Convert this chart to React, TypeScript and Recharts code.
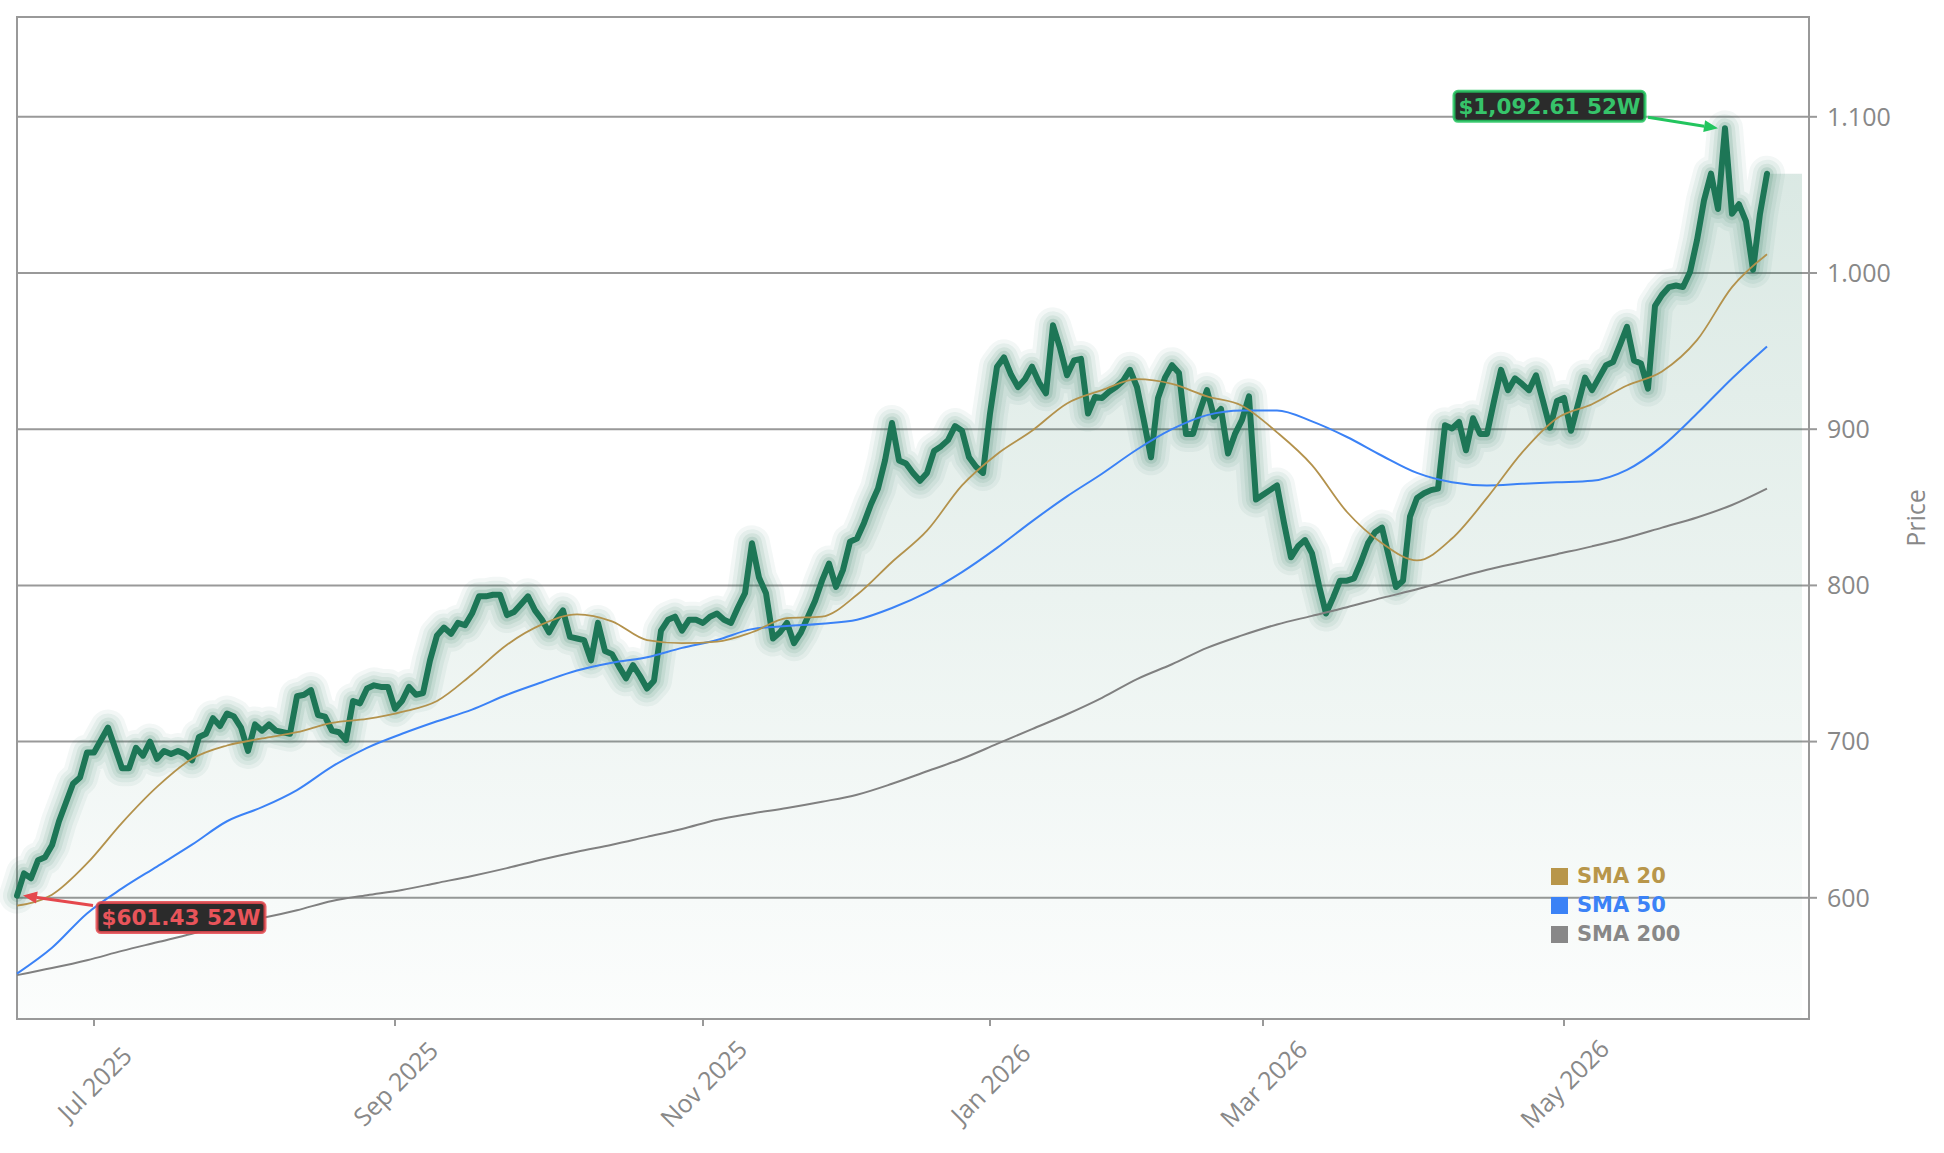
import React from 'react';
import {
  ComposedChart,
  Line,
  Area,
  XAxis,
  YAxis,
  CartesianGrid,
  ReferenceDot,
  ReferenceArea,
} from 'recharts';

// ---- calendar -------------------------------------------------------------
const START_DATE = '2025-06-13';
const MARKET_HOLIDAYS = [
  '2025-06-19', '2025-07-04', '2025-09-01', '2025-11-27', '2025-12-25',
  '2026-01-01', '2026-01-19', '2026-02-16', '2026-04-03', '2026-05-25', '2026-06-19',
];
const PAD_SESSIONS = 6; // empty sessions at the right edge of the axis
const FILL_PAD_SESSIONS = 5; // the shaded area runs a little past the last close

// ---- daily close (52 weeks) ----------------------------------------------
const closes = [
  601.43, 615.6, 612.5, 624, 626, 633.6, 649, 661, 673, 677,
  693, 693, 701, 709, 696, 683, 683, 696, 691, 700,
  689, 694, 692, 694, 692, 688, 703, 705, 715, 710,
  718, 716, 709, 694, 711, 707, 711, 707, 706, 705,
  729, 730, 733, 717, 716, 707, 706, 701, 726, 724.5,
  734, 736, 735, 735, 721, 726, 735, 730, 731, 752,
  768, 773, 769, 776, 774.5, 782, 793, 793, 794, 794,
  781, 783, 788, 793, 784, 778, 770, 778, 784, 767,
  766, 765, 752, 776, 758, 756, 748, 740.5, 749, 742,
  734, 739, 771, 778, 780, 771, 778, 778, 776, 780,
  782, 778, 776, 786, 795, 827, 805, 795, 766, 770,
  776, 763, 770, 780, 790, 803, 814, 799, 810, 828,
  830, 840, 852, 862, 880, 904, 880, 878, 872, 867,
  872, 886, 889, 893, 902, 899, 882, 876, 872, 910,
  940, 946, 935, 927, 932, 940, 930, 923, 966.5, 952,
  934.5, 944, 945, 910, 920.6, 920, 924, 927, 931, 938,
  927, 905, 882, 920, 933, 941, 936, 897, 897, 912,
  925, 908, 913, 884.5, 897, 906, 921, 855, 858, 861,
  864, 840, 818, 825, 829, 820.5, 800, 782, 792, 803,
  803, 804.5, 815, 827, 834, 837, 818, 799, 803, 844,
  856, 859, 861, 862, 902.5, 900.5, 904.6, 886.5, 907, 897,
  897, 918, 938, 925, 932.6, 929, 925, 934.5, 918, 901,
  918, 920, 899, 916, 933, 925, 933, 941, 943, 954,
  965.5, 944, 942, 926, 979, 986, 991, 992, 991, 1000.6,
  1021, 1046.5, 1063.6, 1041, 1092.61, 1038, 1044, 1033, 1002, 1038,
  1063.6,
];

// ---- moving averages, one reading every SMA_STEP sessions ------------------
const SMA_STEP = 5;
const sma20 = [
  595, 602, 622, 648, 671, 689, 697.5, 702, 706, 712,
  714.5, 719, 726, 743, 762, 775, 781.5, 777, 765, 763,
  764, 770, 779, 780, 794, 815, 835, 864, 884, 899,
  916.5, 925, 932, 929, 921, 915, 898, 877, 847, 827,
  816, 830, 856, 885, 907, 916, 928, 937, 957, 991,
  1012,
];
const sma50 = [
  551.5, 568, 590, 606, 620, 634, 649, 658, 669, 684,
  696, 705, 713, 720.5, 730, 738, 745.5, 750.5, 754, 760,
  765, 772, 774, 775.5, 778, 785.5, 795.5, 808.5, 824, 841,
  857, 871.5, 887, 900, 909, 912, 912, 905, 895, 883,
  872, 866, 864, 865, 866, 867, 874, 889, 910, 932.5,
  953,
];
const sma200 = [
  550.5, 555, 560, 566, 571.5, 577, 583, 587, 592, 598,
  601.6, 605, 609.5, 614, 619, 624.5, 629.5, 634, 639, 644,
  650, 654, 657.5, 661.5, 666, 673, 681, 689, 698.5, 708,
  717.5, 728, 740, 749.5, 760, 768, 775, 780.5, 786, 792,
  797.5, 804, 810, 815, 820, 825, 830.5, 837, 843.5, 851.5,
  862,
];

// ---- axes -----------------------------------------------------------------
const TICK_MONTHS = ['2025-07', '2025-09', '2025-11', '2026-01', '2026-03', '2026-05'];
const MONTH_NAMES = ['Jan', 'Feb', 'Mar', 'Apr', 'May', 'Jun', 'Jul', 'Aug', 'Sep', 'Oct', 'Nov', 'Dec'];
const PRICE_TICKS = [600, 700, 800, 900, 1000, 1100];
const PRICE_DOMAIN: [number, number] = [522.4, 1163.9];

const SERIES = [
  { key: 'sma20', name: 'SMA 20', color: '#b3924c', legendColor: '#b8964a' },
  { key: 'sma50', name: 'SMA 50', color: '#3b82f6', legendColor: '#3b82f6' },
  { key: 'sma200', name: 'SMA 200', color: '#808080', legendColor: '#888888' },
];

const GREEN = '#1d7656';
const AXIS_GRAY = '#888888';
const LINE_GRAY = '#999999';
const TICK_FONT = 25;

function tradingSessions(start: string, count: number): string[] {
  const out: string[] = [];
  const d = new Date(start + 'T00:00:00Z');
  while (out.length < count) {
    const iso = d.toISOString().slice(0, 10);
    const wd = d.getUTCDay();
    if (wd !== 0 && wd !== 6 && !MARKET_HOLIDAYS.includes(iso)) out.push(iso);
    d.setUTCDate(d.getUTCDate() + 1);
  }
  return out;
}

const dates = tradingSessions(START_DATE, closes.length + PAD_SESSIONS);
const lastClose = closes[closes.length - 1];

const sampled = (arr: number[], i: number) =>
  i % SMA_STEP === 0 && i / SMA_STEP < arr.length ? arr[i / SMA_STEP] : null;

const rows = dates.map((date, i) => ({
  date,
  close: i < closes.length ? closes[i] : null,
  shade: i < closes.length ? closes[i] : i < closes.length + FILL_PAD_SESSIONS ? lastClose : null,
  sma20: sampled(sma20, i),
  sma50: sampled(sma50, i),
  sma200: sampled(sma200, i),
}));

const xTicks = TICK_MONTHS.map((m) => dates.find((d) => d.startsWith(m)) as string);

const hiIdx = closes.indexOf(Math.max(...closes));
const loIdx = closes.indexOf(Math.min(...closes));

function formatUsd(v: number): string {
  const [int, frac] = v.toFixed(2).split('.');
  return '$' + int.replace(/\B(?=(\d{3})+(?!\d))/g, ',') + '.' + frac;
}

function formatPrice(v: number): string {
  if (v >= 1000) return `${Math.floor(v / 1000)}.${String(v % 1000).padStart(3, '0')}`;
  return String(v);
}

function monthLabel(iso: string): string {
  const [y, m] = iso.split('-');
  return `${MONTH_NAMES[Number(m) - 1]} ${y}`;
}

const XTick = (props: any) => {
  const { x, y, payload } = props;
  const cy = y + 57;
  return (
    <text
      x={x}
      y={cy}
      transform={`rotate(-45, ${x}, ${cy})`}
      textAnchor="middle"
      dominantBaseline="central"
      fill={AXIS_GRAY}
      fontSize={TICK_FONT}
      fontFamily="'Open Sans', sans-serif"
    >
      {monthLabel(payload.value)}
    </text>
  );
};

const PriceAxisLabel = (props: any) => {
  const vb = props.viewBox || { x: 1809, y: 17, width: 110, height: 1002 };
  const cx = vb.x + 106;
  const cy = vb.y + vb.height / 2;
  return (
    <text
      x={cx}
      y={cy}
      transform={`rotate(-90, ${cx}, ${cy})`}
      textAnchor="middle"
      dominantBaseline="central"
      fill={AXIS_GRAY}
      fontSize={TICK_FONT}
      fontFamily="'Open Sans', sans-serif"
    >
      Price
    </text>
  );
};

// Arrow + boxed label pointing at an extreme close.
type CalloutCfg = {
  color: string;
  textColor: string;
  box: { dx: number; dy: number; w: number; h: number };
  from: { dx: number; dy: number };
  to: { dx: number; dy: number };
};

const HIGH_CFG: CalloutCfg = {
  color: '#22c55e',
  textColor: '#36c46a',
  box: { dx: -271, dy: -37, w: 191, h: 30 },
  from: { dx: -77, dy: -11 },
  to: { dx: -7, dy: 0 },
};
const LOW_CFG: CalloutCfg = {
  color: '#e5484d',
  textColor: '#e8545a',
  box: { dx: 80, dy: 7, w: 168, h: 30 },
  from: { dx: 76, dy: 10 },
  to: { dx: 6, dy: 0 },
};

const Callout = (props: any) => {
  const { cx, cy, cfg, text } = props as { cx: number; cy: number; cfg: CalloutCfg; text: string };
  if (cx == null || cy == null) return null;
  const x1 = cx + cfg.from.dx;
  const y1 = cy + cfg.from.dy;
  const tx = cx + cfg.to.dx;
  const ty = cy + cfg.to.dy;
  const len = Math.hypot(tx - x1, ty - y1);
  const ux = (tx - x1) / len;
  const uy = (ty - y1) / len;
  const head = 14;
  const half = 6;
  const bx = tx - ux * head;
  const by = ty - uy * head;
  const p1 = `${tx},${ty}`;
  const p2 = `${bx - uy * half},${by + ux * half}`;
  const p3 = `${bx + uy * half},${by - ux * half}`;
  const { dx, dy, w, h } = cfg.box;
  return (
    <g>
      <line x1={x1} y1={y1} x2={bx} y2={by} stroke={cfg.color} strokeWidth={3} />
      <polygon points={`${p1} ${p2} ${p3}`} fill={cfg.color} />
      <rect
        x={cx + dx}
        y={cy + dy}
        width={w}
        height={h}
        rx={4}
        fill="#2b2b2b"
        stroke={cfg.color}
        strokeWidth={3}
        strokeOpacity={0.85}
      />
      <text
        x={cx + dx + w / 2}
        y={cy + dy + h / 2}
        textAnchor="middle"
        dominantBaseline="central"
        fill={cfg.textColor}
        fontSize={21.5}
        fontWeight="bold"
        fontFamily="'DejaVu Sans', sans-serif"
      >
        {text}
      </text>
    </g>
  );
};

// Stacked translucent strokes give the close line its halo.
const GLOW_LAYERS = [
  { width: 36, opacity: 0.055 },
  { width: 28, opacity: 0.065 },
  { width: 20, opacity: 0.085 },
  { width: 13, opacity: 0.13 },
];

const Legend = () => (
  <div style={{ position: 'absolute', left: 1551, top: 862, fontFamily: "'DejaVu Sans', sans-serif" }}>
    {SERIES.map((s) => (
      <div key={s.key} style={{ display: 'flex', alignItems: 'center', height: 29 }}>
        <div style={{ width: 17, height: 17, background: s.legendColor, marginRight: 9 }} />
        <span style={{ color: s.legendColor, fontSize: 21, fontWeight: 'bold', lineHeight: '29px' }}>{s.name}</span>
      </div>
    ))}
  </div>
);

export default function App() {
  return (
    <div style={{ position: 'absolute', left: 0, top: 0, width: 1944, height: 1153, background: '#ffffff' }}>
      <ComposedChart
        width={1944}
        height={1153}
        data={rows}
        margin={{ top: 17, left: 17, right: 25, bottom: 34 }}
        style={{ fontFamily: "'Open Sans', sans-serif" }}
      >
        <defs>
          <linearGradient id="closeShade" x1="0" y1="0" x2="0" y2="1">
            <stop offset="0%" stopColor={GREEN} stopOpacity={0.17} />
            <stop offset="100%" stopColor={GREEN} stopOpacity={0.015} />
          </linearGradient>
        </defs>
        <CartesianGrid vertical={false} stroke={LINE_GRAY} strokeWidth={2} />
        <XAxis
          dataKey="date"
          type="category"
          scale="point"
          ticks={xTicks}
          interval={0}
          height={100}
          axisLine={false}
          tickSize={7}
          tickMargin={0}
          tickLine={{ stroke: LINE_GRAY, strokeWidth: 2 }}
          tick={<XTick />}
        />
        <YAxis
          orientation="right"
          type="number"
          width={110}
          domain={PRICE_DOMAIN}
          ticks={PRICE_TICKS}
          interval={0}
          allowDataOverflow
          axisLine={false}
          tickSize={8}
          tickMargin={10}
          tickLine={{ stroke: LINE_GRAY, strokeWidth: 2 }}
          tick={{ fill: AXIS_GRAY, fontSize: TICK_FONT, fontFamily: "'Open Sans', sans-serif" }}
          tickFormatter={formatPrice}
          label={(p: any) => <PriceAxisLabel {...p} />}
        />
        <Area
          dataKey="shade"
          type="linear"
          stroke="none"
          fill="url(#closeShade)"
          fillOpacity={1}
          isAnimationActive={false}
          activeDot={false}
          legendType="none"
        />
        {GLOW_LAYERS.map((g, i) => (
          <Line
            key={`glow-${i}`}
            dataKey="close"
            type="linear"
            stroke={GREEN}
            strokeOpacity={g.opacity}
            strokeWidth={g.width}
            strokeLinejoin="round"
            strokeLinecap="round"
            dot={false}
            activeDot={false}
            isAnimationActive={false}
            legendType="none"
          />
        ))}
        <Line
          dataKey="close"
          type="linear"
          stroke={GREEN}
          strokeWidth={6}
          strokeLinejoin="round"
          strokeLinecap="round"
          dot={false}
          activeDot={false}
          isAnimationActive={false}
        />
        {SERIES.slice().reverse().map((s) => (
          <Line
            key={s.key}
            dataKey={s.key}
            name={s.name}
            type="monotone"
            connectNulls
            stroke={s.color}
            strokeWidth={s.key === 'sma20' ? 1.8 : 2}
            dot={false}
            activeDot={false}
            isAnimationActive={false}
          />
        ))}
        <ReferenceArea
          x1={dates[0]}
          x2={dates[dates.length - 1]}
          y1={PRICE_DOMAIN[0]}
          y2={PRICE_DOMAIN[1]}
          fill="none"
          stroke={LINE_GRAY}
          strokeWidth={2}
          ifOverflow="visible"
        />
        <ReferenceDot
          x={dates[hiIdx]}
          y={closes[hiIdx]}
          ifOverflow="visible"
          shape={(p: any) => <Callout {...p} cfg={HIGH_CFG} text={`${formatUsd(closes[hiIdx])} 52W`} />}
        />
        <ReferenceDot
          x={dates[loIdx]}
          y={closes[loIdx]}
          ifOverflow="visible"
          shape={(p: any) => <Callout {...p} cfg={LOW_CFG} text={`${formatUsd(closes[loIdx])} 52W`} />}
        />
      </ComposedChart>
      <Legend />
    </div>
  );
}
